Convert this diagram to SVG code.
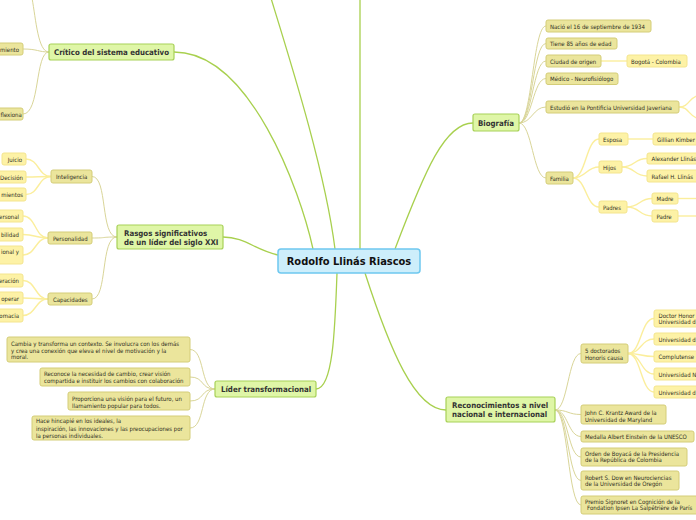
<svg xmlns="http://www.w3.org/2000/svg" width="696" height="520" viewBox="0 0 696 520">
<style>
.n0 rect{fill:#cdeefb;stroke:#6ec8ef;stroke-width:1.5}
.n1 rect{fill:#dff6a7;stroke:#a8d158;stroke-width:1.2}
.n2 rect{fill:#ebe59c;stroke:#d4cd78;stroke-width:1}
.n3 rect{fill:#fdf2a6;stroke:#f4e58e;stroke-width:1}
text{font-family:"DejaVu Sans Condensed","DejaVu Sans",sans-serif;fill:#333}
.c{font-size:11px;font-weight:bold;fill:#111}
.b{font-size:7.8px;font-weight:bold}
.s{font-size:6px;fill:#2e2e22}
.e0{stroke:#a8d04e;stroke-width:1.3;fill:none}
.e1{stroke:#d9d598;stroke-width:1;fill:none}
.e2{stroke:#fbee9c;stroke-width:1.4;fill:none}
</style>
<rect width="696" height="520" fill="#fff"/>
<g id="connectors">
<path class="e0" d="M174,52 C250,52 300,190 313,249"/>
<path class="e0" d="M270,-5 C290,60 325,170 335,249"/>
<path class="e0" d="M360,-2 L360,249"/>
<path class="e0" d="M395,249 C425,170 445,123 473,123"/>
<path class="e0" d="M278,255 C255,250 245,237 223,237"/>
<path class="e0" d="M337,273 C335,330 333,389 316,389"/>
<path class="e0" d="M365,273 C390,350 415,410 446,410"/>
<path class="e1" d="M49,52 C38,52 38,49 23,49"/>
<path class="e1" d="M49,52 C35,52 40,114 23,114"/>
<path class="e1" d="M49,52 C38,52 36,20 32,-2"/>
<path class="e1" d="M117,237 C100,237 108,176.5 92,176.5"/>
<path class="e1" d="M117,237 C100,237 108,238 92,238"/>
<path class="e1" d="M117,237 C100,237 108,299 92,299"/>
<path class="e2" d="M51,176.5 C38,176.5 39,159 26,159"/>
<path class="e2" d="M51,176.5 C38,176.5 39,177 26,177"/>
<path class="e2" d="M51,176.5 C38,176.5 39,194.5 26,194.5"/>
<path class="e2" d="M48,238 C35,238 36,216 23,216"/>
<path class="e2" d="M48,238 C35,238 36,234.5 23,234.5"/>
<path class="e2" d="M48,238 C35,238 36,255 23,255"/>
<path class="e2" d="M48,299 C35,299 36,280.5 23,280.5"/>
<path class="e2" d="M48,299 C35,299 36,298 23,298"/>
<path class="e2" d="M48,299 C35,299 36,315.5 23,315.5"/>
<path class="e1" d="M215,389 C200,389 205,349.5 190,349.5"/>
<path class="e1" d="M215,389 C200,389 205,377 190,377"/>
<path class="e1" d="M215,389 C200,389 205,401 190,401"/>
<path class="e1" d="M215,389 C200,389 205,428 190,428"/>
<path class="e1" d="M519,123 C532,123 533,26 546,26"/>
<path class="e1" d="M519,123 C532,123 533,43.5 546,43.5"/>
<path class="e1" d="M519,123 C532,123 533,61 546,61"/>
<path class="e1" d="M519,123 C532,123 533,78.5 546,78.5"/>
<path class="e1" d="M519,123 C532,123 533,107 546,107"/>
<path class="e1" d="M519,123 C532,123 533,178 546,178"/>
<path class="e2" d="M601,61 L627,61"/>
<path class="e2" d="M679,107 C690,107 688,97 700,95"/>
<path class="e2" d="M679,107 C690,107 688,117 700,119"/>
<path class="e2" d="M573,178 C586,178 586,139 599,139"/>
<path class="e2" d="M573,178 C586,178 586,167 599,167"/>
<path class="e2" d="M573,178 C586,178 586,207 599,207"/>
<path class="e2" d="M628,139 L653,139"/>
<path class="e2" d="M622,167 C635,167 634,158.5 647,158.5"/>
<path class="e2" d="M622,167 C635,167 634,176 647,176"/>
<path class="e2" d="M627,207 C640,207 639,198.5 652,198.5"/>
<path class="e2" d="M627,207 C640,207 639,216 652,216"/>
<path class="e2" d="M678,198.5 L700,198.5"/>
<path class="e2" d="M678,216 L700,216"/>
<path class="e1" d="M555,410 C568,410 568,353.5 581,353.5"/>
<path class="e1" d="M555,410 C568,410 568,414.5 581,414.5"/>
<path class="e1" d="M555,410 C568,410 568,436.5 581,436.5"/>
<path class="e1" d="M555,410 C568,410 568,457 581,457"/>
<path class="e1" d="M555,410 C568,410 568,480.5 581,480.5"/>
<path class="e1" d="M555,410 C568,410 568,505 581,505"/>
<path class="e2" d="M628,353.5 C641,353.5 641,318.5 654,318.5"/>
<path class="e2" d="M628,353.5 C641,353.5 641,339 654,339"/>
<path class="e2" d="M628,353.5 C641,353.5 641,356.5 654,356.5"/>
<path class="e2" d="M628,353.5 C641,353.5 641,374 654,374"/>
<path class="e2" d="M628,353.5 C641,353.5 641,392 654,392"/>
</g>
<g id="central" class="n0"><rect x="278" y="249" width="142" height="24" rx="3"/><text class="c" x="349" y="265" text-anchor="middle">Rodolfo Llinás Riascos</text></g>
<g id="critico" class="n1"><rect x="49" y="44" width="125" height="16" rx="2"/><text class="b" x="111.5" y="55.3" text-anchor="middle">Crítico del sistema educativo</text></g>
<g id="rasgos" class="n1"><rect x="117" y="225" width="106" height="24" rx="2"/><text class="b" x="124" y="235.5">Rasgos significativos</text><text class="b" x="124" y="245">de un líder del siglo XXI</text></g>
<g id="lider" class="n1"><rect x="215" y="381" width="101" height="16" rx="2"/><text class="b" x="221" y="392">Líder transformacional</text></g>
<g id="biografia" class="n1"><rect x="473" y="114" width="46" height="17" rx="2"/><text class="b" x="496" y="125.5" text-anchor="middle">Biografía</text></g>
<g id="reconocimientos" class="n1"><rect x="446" y="397" width="109" height="25" rx="2"/><text class="b" x="452" y="407.5">Reconocimientos a nivel</text><text class="b" x="452" y="417">nacional e internacional</text></g>

<g id="miento" class="n2"><rect x="-30" y="43" width="53" height="12" rx="2"/><text class="s" x="19" y="51.5" text-anchor="end">miento</text></g>
<g id="flexiona" class="n2"><rect x="-30" y="108" width="53" height="12" rx="2"/><text class="s" x="0.5" y="116.5">flexiona</text></g>

<g id="inteligencia" class="n2"><rect x="51" y="170" width="41" height="13" rx="2"/><text class="s" x="56" y="179">Inteligencia</text></g>
<g id="personalidad" class="n2"><rect x="48" y="232" width="44" height="12" rx="2"/><text class="s" x="53" y="240.5">Personalidad</text></g>
<g id="capacidades" class="n2"><rect x="48" y="293" width="44" height="12" rx="2"/><text class="s" x="53" y="301.5">Capacidades</text></g>
<g id="juicio" class="n3"><rect x="2" y="153" width="24" height="12" rx="2"/><text class="s" x="22" y="161.5" text-anchor="end">Juicio</text></g>
<g id="decision" class="n3"><rect x="-20" y="171" width="46" height="12" rx="2"/><text class="s" x="23" y="179.5" text-anchor="end">Decisión</text></g>
<g id="mientos" class="n3"><rect x="-20" y="188" width="46" height="13" rx="2"/><text class="s" x="23" y="197" text-anchor="end">mientos</text></g>
<g id="ersonal" class="n3"><rect x="-20" y="210" width="43" height="12" rx="2"/><text class="s" x="19" y="218.5" text-anchor="end">ersonal</text></g>
<g id="bilidad" class="n3"><rect x="-20" y="228" width="43" height="13" rx="2"/><text class="s" x="19" y="237" text-anchor="end">bilidad</text></g>
<g id="ionaly" class="n3"><rect x="-20" y="246" width="43" height="18" rx="2"/><text class="s" x="19" y="254" text-anchor="end">ional y</text></g>
<g id="eracion" class="n3"><rect x="-20" y="274" width="43" height="13" rx="2"/><text class="s" x="19" y="283" text-anchor="end">eración</text></g>
<g id="operar" class="n3"><rect x="-20" y="292" width="43" height="12" rx="2"/><text class="s" x="19" y="300.5" text-anchor="end">operar</text></g>
<g id="omacia" class="n3"><rect x="-20" y="309" width="43" height="13" rx="2"/><text class="s" x="19" y="318" text-anchor="end">omacia</text></g>

<g id="lider1" class="n2"><rect x="7" y="337" width="183" height="25" rx="2"/><text class="s" x="11" y="346">Cambia y transforma un contexto. Se involucra con los demás</text><text class="s" x="11" y="352.5">y crea una conexión que eleva el nivel de motivación y la</text><text class="s" x="11" y="359">moral.</text></g>
<g id="lider2" class="n2"><rect x="40" y="368" width="150" height="18" rx="2"/><text class="s" x="44" y="375.5">Reconoce la necesidad de cambio, crear visión</text><text class="s" x="44" y="383.2">compartida e instituir los cambios con colaboración</text></g>
<g id="lider3" class="n2"><rect x="68" y="392" width="122" height="18" rx="2"/><text class="s" x="72" y="400.5">Proporciona una visión para el futuro, un</text><text class="s" x="72" y="407.5">llamamiento popular para todos.</text></g>
<g id="lider4" class="n2"><rect x="32" y="416" width="158" height="24" rx="2"/><text class="s" x="36" y="423.3">Hace hincapié en los ideales, la</text><text class="s" x="36" y="431">inspiración, las innovaciones y las preocupaciones por</text><text class="s" x="36" y="437.7">la personas individuales.</text></g>

<g id="nacio" class="n2"><rect x="546" y="20" width="105" height="12" rx="2"/><text class="s" x="550" y="28.5">Nació el 16 de septiembre de 1934</text></g>
<g id="tiene" class="n2"><rect x="546" y="38" width="71" height="11" rx="2"/><text class="s" x="550" y="46">Tiene 85 años de edad</text></g>
<g id="ciudad" class="n2"><rect x="546" y="55" width="55" height="12" rx="2"/><text class="s" x="550" y="63.5">Ciudad de origen</text></g>
<g id="bogota" class="n3"><rect x="627" y="55" width="60" height="12" rx="2"/><text class="s" x="631" y="63.5">Bogotá - Colombia</text></g>
<g id="medico" class="n2"><rect x="546" y="73" width="72" height="11.5" rx="2"/><text class="s" x="550" y="81">Médico - Neurofisiólogo</text></g>
<g id="estudio" class="n2"><rect x="546" y="101" width="133" height="12" rx="2"/><text class="s" x="550" y="109.5">Estudió en la Pontificia Universidad Javeriana</text></g>
<g id="familia" class="n2"><rect x="546" y="172" width="27" height="12" rx="2"/><text class="s" x="550" y="180.5">Familia</text></g>
<g id="esposa" class="n3"><rect x="599" y="133" width="29" height="12" rx="2"/><text class="s" x="603" y="141.5">Esposa</text></g>
<g id="gillian" class="n3"><rect x="653" y="133" width="60" height="12" rx="2"/><text class="s" x="657" y="141.5">Gillian Kimber</text></g>
<g id="hijos" class="n3"><rect x="599" y="161" width="23" height="12" rx="2"/><text class="s" x="603" y="169.5">Hijos</text></g>
<g id="alexander" class="n3"><rect x="647" y="153" width="70" height="11" rx="2"/><text class="s" x="651.5" y="161">Alexander Llinás</text></g>
<g id="rafael" class="n3"><rect x="647" y="170" width="70" height="12" rx="2"/><text class="s" x="651.5" y="178.5">Rafael H. Llinás</text></g>
<g id="padres" class="n3"><rect x="599" y="201" width="28" height="12" rx="2"/><text class="s" x="603" y="209.5">Padres</text></g>
<g id="madre" class="n3"><rect x="652" y="193" width="26" height="11" rx="2"/><text class="s" x="656.5" y="201">Madre</text></g>
<g id="padre" class="n3"><rect x="652" y="210" width="26" height="12" rx="2"/><text class="s" x="656.5" y="218.5">Padre</text></g>

<g id="doctorados" class="n2"><rect x="581" y="344" width="47" height="19" rx="2"/><text class="s" x="585" y="352.8">5 doctorados</text><text class="s" x="585" y="359.5">Honoris causa</text></g>
<g id="doc1" class="n3"><rect x="654" y="310" width="60" height="17" rx="2"/><text class="s" x="658.5" y="317.8">Doctor Honor</text><text class="s" x="658.5" y="323.8">Universidad d</text></g>
<g id="doc2" class="n3"><rect x="654" y="333" width="60" height="12" rx="2"/><text class="s" x="658.5" y="341.5">Universidad d</text></g>
<g id="doc3" class="n3"><rect x="654" y="351" width="60" height="11" rx="2"/><text class="s" x="658.5" y="359">Complutense</text></g>
<g id="doc4" class="n3"><rect x="654" y="368" width="60" height="12" rx="2"/><text class="s" x="658.5" y="376.5">Universidad N</text></g>
<g id="doc5" class="n3"><rect x="654" y="386" width="60" height="12" rx="2"/><text class="s" x="658.5" y="394.5">Universidad d</text></g>
<g id="john" class="n2"><rect x="581" y="405" width="85" height="19" rx="2"/><text class="s" x="585" y="414.5">John C. Krantz Award de la</text><text class="s" x="585" y="421.5">Universidad de Maryland</text></g>
<g id="medalla" class="n2"><rect x="581" y="431" width="113" height="11" rx="2"/><text class="s" x="585" y="439">Medalla Albert Einstein de la UNESCO</text></g>
<g id="orden" class="n2"><rect x="581" y="448" width="106" height="18" rx="2"/><text class="s" x="585" y="455.5">Orden de Boyacá de la Presidencia</text><text class="s" x="585" y="462.2">de la República de Colombia</text></g>
<g id="robert" class="n2"><rect x="581" y="471" width="98" height="19" rx="2"/><text class="s" x="585" y="479.5">Robert S. Dow en Neurociencias</text><text class="s" x="585" y="486.2">de la Universidad de Oregón</text></g>
<g id="premio" class="n2"><rect x="581" y="496" width="120" height="18" rx="2"/><text class="s" x="585" y="503.5">Premio Signoret en Cognición de la</text><text class="s" x="587" y="509.8">Fondation Ipsen La Salpêtrière de París</text></g>
</svg>
